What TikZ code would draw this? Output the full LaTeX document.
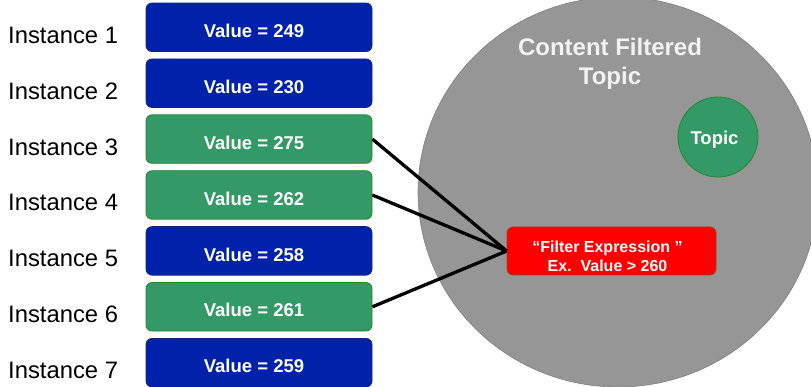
\documentclass[tikz,border=0pt]{standalone}
\usepackage{fontspec}
\setmainfont{Liberation Sans}
\usetikzlibrary{shapes.geometric}
\definecolor{boxblue}{RGB}{0,34,170}
\definecolor{boxblueedge}{RGB}{25,35,125}
\definecolor{boxgreen}{RGB}{51,153,102}
\definecolor{greenedge}{RGB}{30,140,40}
\definecolor{cftgray}{RGB}{150,150,150}
\definecolor{cftedge}{RGB}{128,128,128}
\definecolor{filtedge}{RGB}{150,70,30}
\definecolor{cfttext}{RGB}{242,242,242}
\begin{document}
\begin{tikzpicture}[x=1pt,y=-1pt,
  valbox/.style={draw, rounded corners=6pt, minimum width=226pt, minimum height=48.5pt, inner sep=0pt, line width=0.8pt},
  bluebox/.style={valbox, fill=boxblue, draw=boxblueedge},
  greenbox/.style={valbox, fill=boxgreen, draw=greenedge},
  valtext/.style={text=white, font=\fontsize{18.5}{22}\selectfont\bfseries, inner sep=0pt},
  instlabel/.style={anchor=base west, inner sep=0pt, font=\fontsize{23.8}{28}\selectfont},
  link/.style={line width=3.3pt, black}]
\useasboundingbox (0,0) rectangle (811,387);

% content filtered topic
\node[ellipse, draw=cftedge, fill=cftgray, minimum width=400pt, minimum height=390pt, inner sep=0pt, line width=0.6pt] (cft) at (618,192) {};
\node[align=center, text=cfttext, font=\fontsize{24}{29}\selectfont\bfseries, inner sep=0pt] (cfttitle) at (610,64) {Content Filtered\\Topic};

% topic
\node[circle, draw=greenedge, fill=boxgreen, minimum size=80pt, inner sep=0pt, line width=0.8pt] (topic) at (718,137) {};
\node[valtext] (topictext) at (714.5,140) {Topic};

% filter expression
\node[draw=filtedge, fill=red, rounded corners=6pt, minimum width=209pt, minimum height=48pt, inner sep=0pt, line width=0.8pt] (filt) at (611.5,251) {};
\node[align=center, text=white, font=\fontsize{16}{19}\selectfont\bfseries, inner sep=0pt] (filttext) at (607.5,256.3) {“Filter Expression ”\\Ex.\ \ Value > 260};

% instances
\foreach \i/\v/\s in {1/249/bluebox, 2/230/bluebox, 3/275/greenbox, 4/262/greenbox, 5/258/bluebox, 6/261/greenbox, 7/259/bluebox} {
  \pgfmathsetmacro{\cy}{27.3+55.9*(\i-1)}
  \pgfmathsetmacro{\by}{43.3+55.9*(\i-1)}
  \node[\s] (b\i) at (259,\cy) {};
  \node[valtext] (t\i) at ([shift={(-5,3.5)}]b\i.center) {Value = \v};
  \node[instlabel] (l\i) at (8,\by) {Instance \i};
}

% connectors
\draw[link] (b3.east) -- (filt.west);
\draw[link] (b4.east) -- (filt.west);
\draw[link] (b6.east) -- (filt.west);
\end{tikzpicture}
\end{document}
